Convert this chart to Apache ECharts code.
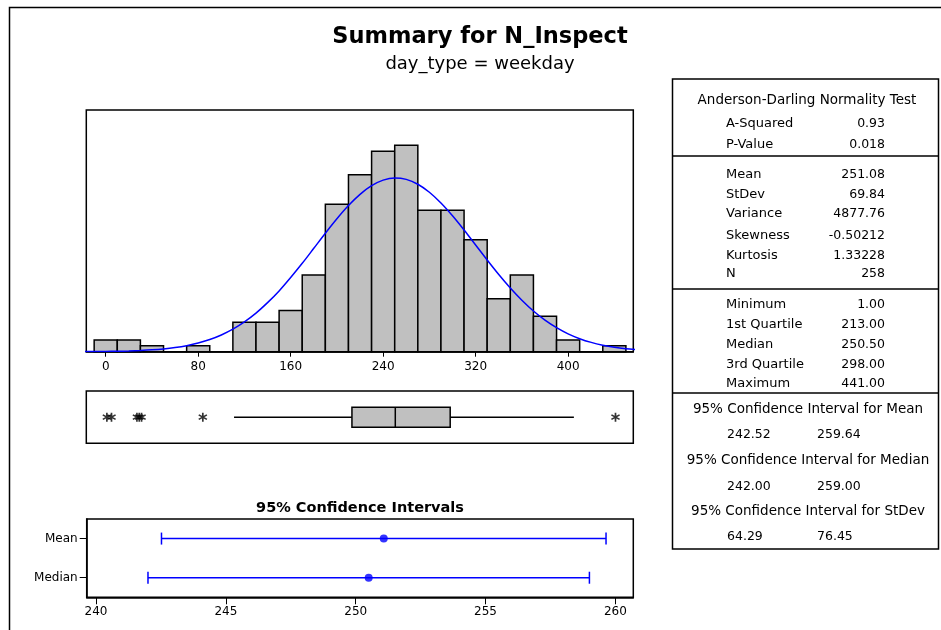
<!DOCTYPE html>
<html>
<head>
<meta charset="utf-8">
<script src="https://cdn.jsdelivr.net/npm/echarts@6/dist/echarts.min.js"></script>
<style>
  html, body { margin: 0; padding: 0; background: #fff; }
  #chart { width: 941px; height: 630px; }
</style>
</head>
<body>
<div id="chart"></div>
<script>
// ---- Histogram of N_Inspect (weekday), bins of width 20 centred on multiples of 20
const BIN_WIDTH = 20;
const binCenters = [0, 20, 40, 60, 80, 100, 120, 140, 160, 180, 200, 220, 240, 260, 280, 300, 320, 340, 360, 380, 400, 420, 440];
const binCounts  = [2, 2, 1, 0, 1, 0, 5, 5, 7, 13, 25, 30, 34, 35, 24, 24, 19, 9, 13, 6, 2, 0, 1];
const histTicks  = [0, 80, 160, 240, 320, 400];

// ---- Fitted normal curve (expected count per bin)
const fitX = [-20, -10, 0, 10, 20, 30, 40, 50, 60, 70, 80, 90, 100, 110, 120, 130, 140, 150, 160, 170,
              180, 190, 200, 210, 220, 230, 240, 250, 260, 270, 280, 290, 300, 310, 320, 330, 340, 350,
              360, 370, 380, 390, 400, 410, 420, 430, 440, 450, 460];
const fitY = [0.02, 0.03, 0.05, 0.08, 0.12, 0.20, 0.31, 0.47, 0.70, 1.02, 1.46, 2.06, 2.84, 3.82, 5.06, 6.54, 8.32, 10.31, 12.58, 14.99,
              17.54, 20.10, 22.55, 24.79, 26.69, 28.16, 29.10, 29.47, 29.23, 28.41, 27.05, 25.23, 23.06, 20.65, 18.11, 15.56, 13.10, 10.81,
              8.74, 6.91, 5.36, 4.08, 3.03, 2.21, 1.58, 1.11, 0.76, 0.51, 0.34];

// ---- Box plot: lower whisker, Q1, median, Q3, upper whisker; plus outliers
const boxStats = [111, 213, 250.5, 298, 405];
const outliers = [1, 5, 27, 29, 31, 84, 441];

// ---- 95% confidence intervals
const ciNames  = ['Median', 'Mean'];
const ciLow    = [242.00, 242.52];
const ciHigh   = [259.00, 259.64];
const ciCenter = [250.50, 251.08];
const ciTicks  = [240, 245, 250, 255, 260];

// ---- Summary statistics panel
const adTitle = 'Anderson-Darling Normality Test';
const adRows = [['A-Squared', '0.93'], ['P-Value', '0.018']];
const momentRows = [['Mean', '251.08'], ['StDev', '69.84'], ['Variance', '4877.76'],
                    ['Skewness', '-0.50212'], ['Kurtosis', '1.33228'], ['N', '258']];
const quantileRows = [['Minimum', '1.00'], ['1st Quartile', '213.00'], ['Median', '250.50'],
                      ['3rd Quartile', '298.00'], ['Maximum', '441.00']];
const ciRows = [['95% Confidence Interval for Mean', '242.52', '259.64'],
                ['95% Confidence Interval for Median', '242.00', '259.00'],
                ['95% Confidence Interval for StDev', '64.29', '76.45']];

const FONT = 'DejaVu Sans';
const chart = echarts.init(document.getElementById('chart'), null, { renderer: 'canvas' });

// asterisk marker built from three rotated bars
function asteriskPath() {
  const L = 5, w = 0.9;
  let d = '';
  [90, 30, 150].forEach(function (deg) {
    const a = deg * Math.PI / 180;
    const u = [Math.cos(a), Math.sin(a)], n = [-Math.sin(a), Math.cos(a)];
    const pts = [[L * u[0] + w * n[0], L * u[1] + w * n[1]],
                 [L * u[0] - w * n[0], L * u[1] - w * n[1]],
                 [-L * u[0] - w * n[0], -L * u[1] - w * n[1]],
                 [-L * u[0] + w * n[0], -L * u[1] + w * n[1]]];
    d += 'M' + pts.map(p => p[0].toFixed(3) + ',' + p[1].toFixed(3)).join('L') + 'Z';
  });
  return 'path://' + d;
}

// ---- panel text & rules
const graphics = [];
function txt(x, y, s, opt) {
  opt = opt || {};
  graphics.push({
    type: 'text', x: x, y: y, silent: true,
    style: {
      text: s, fill: '#000',
      font: (opt.weight || 'normal') + ' ' + (opt.size || 13) + 'px "' + FONT + '"',
      align: opt.align || 'left', verticalAlign: 'middle'
    }
  });
}
function hline(x1, x2, y) {
  graphics.push({ type: 'line', silent: true, shape: { x1: x1, y1: y, x2: x2, y2: y },
                  style: { stroke: '#000', lineWidth: 1.5 } });
}

// page frame
graphics.push({ type: 'polyline', silent: true,
  shape: { points: [[9.5, 632], [9.5, 7.5], [943, 7.5]] },
  style: { stroke: '#000', lineWidth: 1.5, fill: null } });

// titles
txt(480, 37, 'Summary for N_Inspect', { size: 22.5, weight: 'bold', align: 'center' });
txt(480, 64, 'day_type = weekday', { size: 18, align: 'center' });
txt(360, 508, '95% Confidence Intervals', { size: 14.5, weight: 'bold', align: 'center' });

// statistics box
const T_L = 672.5, T_R = 938.5, T_TOP = 79, T_BOT = 549;
graphics.push({ type: 'rect', silent: true,
  shape: { x: T_L, y: T_TOP, width: T_R - T_L, height: T_BOT - T_TOP },
  style: { stroke: '#000', lineWidth: 1.5, fill: null } });
hline(T_L, T_R, 156);
hline(T_L, T_R, 289);
hline(T_L, T_R, 393);

const LBL_X = 726, VAL_X = 885, NUM = 12.5;
txt(807, 100, adTitle, { align: 'center', size: 13.5 });
[124, 145].forEach((y, i) => { txt(LBL_X, y, adRows[i][0]); txt(VAL_X, y, adRows[i][1], { align: 'right', size: NUM }); });
[175, 195, 214, 236, 256, 274].forEach((y, i) => { txt(LBL_X, y, momentRows[i][0]); txt(VAL_X, y, momentRows[i][1], { align: 'right', size: NUM }); });
[305, 325, 345, 365, 384].forEach((y, i) => { txt(LBL_X, y, quantileRows[i][0]); txt(VAL_X, y, quantileRows[i][1], { align: 'right', size: NUM }); });
[[409, 435], [460, 487], [511, 537]].forEach((ys, i) => {
  txt(808, ys[0], ciRows[i][0], { align: 'center', size: 13.5 });
  txt(727, ys[1], ciRows[i][1], { size: NUM });
  txt(817, ys[1], ciRows[i][2], { size: NUM });
});

const axisFont = { color: '#000', fontSize: 12, fontFamily: FONT };
const frame = { show: true, borderColor: '#000', borderWidth: 1.5, backgroundColor: '#fff' };

const option = {
  animation: false,
  backgroundColor: '#fff',
  grid: [
    Object.assign({ left: 86.3, top: 110, width: 547, height: 241.7 }, frame),
    Object.assign({ left: 86.3, top: 391, width: 547, height: 52.3 }, frame),
    Object.assign({ left: 86.7, top: 519, width: 546.6, height: 78.3 }, frame)
  ],
  xAxis: [
    { gridIndex: 0, type: 'value', min: -16.8, max: 456.4,
      axisLine: { show: true, lineStyle: { color: '#000', width: 1.5 } },
      axisTick: { show: true, length: 5, customValues: histTicks, lineStyle: { color: '#000' } },
      axisLabel: Object.assign({ customValues: histTicks, margin: 9 }, axisFont),
      splitLine: { show: false } },
    { gridIndex: 1, type: 'value', min: -16.8, max: 456.4,
      axisLine: { show: false }, axisTick: { show: false }, axisLabel: { show: false },
      splitLine: { show: false } },
    { gridIndex: 2, type: 'value', min: 239.64, max: 260.69,
      axisLine: { show: true, lineStyle: { color: '#000', width: 1.5 } },
      axisTick: { show: true, length: 7, customValues: ciTicks, lineStyle: { color: '#000' } },
      axisLabel: Object.assign({ customValues: ciTicks, margin: 9 }, axisFont),
      splitLine: { show: false } }
  ],
  yAxis: [
    { gridIndex: 0, type: 'value', min: 0, max: 41, show: false },
    { gridIndex: 1, type: 'value', min: 0, max: 1, show: false },
    { gridIndex: 2, type: 'category', data: ciNames,
      axisLine: { show: true, lineStyle: { color: '#000', width: 1.5 } },
      axisTick: { show: true, alignWithLabel: true, length: 7, lineStyle: { color: '#000' } },
      axisLabel: Object.assign({ margin: 9 }, axisFont),
      splitLine: { show: false } }
  ],
  series: [
    { // histogram bars
      type: 'custom', xAxisIndex: 0, yAxisIndex: 0, clip: false,
      data: binCenters.map((c, i) => [c, binCounts[i]]),
      encode: { x: 0, y: 1 },
      renderItem: function (params, api) {
        const c = api.value(0), n = api.value(1);
        const p0 = api.coord([c - BIN_WIDTH / 2, n]);
        const p1 = api.coord([c + BIN_WIDTH / 2, 0]);
        return { type: 'rect',
          shape: { x: p0[0], y: p0[1], width: p1[0] - p0[0], height: p1[1] - p0[1] },
          style: { fill: '#c0c0c0', stroke: '#000', lineWidth: 1.5 } };
      }
    },
    { // fitted normal curve
      type: 'line', xAxisIndex: 0, yAxisIndex: 0, z: 5,
      data: fitX.map((x, i) => [x, fitY[i]]),
      smooth: 0.3, showSymbol: false, clip: true,
      lineStyle: { color: '#0000ff', width: 1.5 }
    },
    { // box and whiskers
      type: 'custom', xAxisIndex: 1, yAxisIndex: 1,
      data: [boxStats.concat([0.5])],
      encode: { x: [0, 1, 2, 3, 4], y: 5 },
      renderItem: function (params, api) {
        const yv = api.value(5);
        const pLo = api.coord([api.value(0), yv]);
        const pQ1 = api.coord([api.value(1), yv]);
        const pMd = api.coord([api.value(2), yv]);
        const pQ3 = api.coord([api.value(3), yv]);
        const pHi = api.coord([api.value(4), yv]);
        const h = 20, cy = pMd[1];
        const st = { stroke: '#000', lineWidth: 1.5 };
        return { type: 'group', children: [
          { type: 'line', shape: { x1: pLo[0], y1: cy, x2: pQ1[0], y2: cy }, style: st },
          { type: 'line', shape: { x1: pQ3[0], y1: cy, x2: pHi[0], y2: cy }, style: st },
          { type: 'rect', shape: { x: pQ1[0], y: cy - h / 2, width: pQ3[0] - pQ1[0], height: h },
            style: { fill: '#c0c0c0', stroke: '#000', lineWidth: 1.5 } },
          { type: 'line', shape: { x1: pMd[0], y1: cy - h / 2, x2: pMd[0], y2: cy + h / 2 }, style: st }
        ] };
      }
    },
    { // outliers
      type: 'scatter', xAxisIndex: 1, yAxisIndex: 1,
      data: outliers.map(v => [v, 0.5]),
      symbol: asteriskPath(), symbolSize: 9,
      itemStyle: { color: '#000' }
    },
    { // confidence interval bars
      type: 'custom', xAxisIndex: 2, yAxisIndex: 2,
      data: ciNames.map((n, i) => [ciLow[i], i, ciHigh[i]]),
      encode: { x: [0, 2], y: 1 },
      renderItem: function (params, api) {
        const pL = api.coord([api.value(0), api.value(1)]);
        const pH = api.coord([api.value(2), api.value(1)]);
        const cap = 6, st = { stroke: '#0000ff', lineWidth: 1.5 };
        return { type: 'group', children: [
          { type: 'line', shape: { x1: pL[0], y1: pL[1], x2: pH[0], y2: pH[1] }, style: st },
          { type: 'line', shape: { x1: pL[0], y1: pL[1] - cap, x2: pL[0], y2: pL[1] + cap }, style: st },
          { type: 'line', shape: { x1: pH[0], y1: pH[1] - cap, x2: pH[0], y2: pH[1] + cap }, style: st }
        ] };
      }
    },
    { // point estimates
      type: 'scatter', xAxisIndex: 2, yAxisIndex: 2, z: 5,
      data: ciCenter.map((v, i) => [v, ciNames[i]]),
      symbol: 'circle', symbolSize: 8,
      itemStyle: { color: '#0000ff' }
    }
  ],
  graphic: graphics
};

chart.setOption(option);
</script>
</body>
</html>
